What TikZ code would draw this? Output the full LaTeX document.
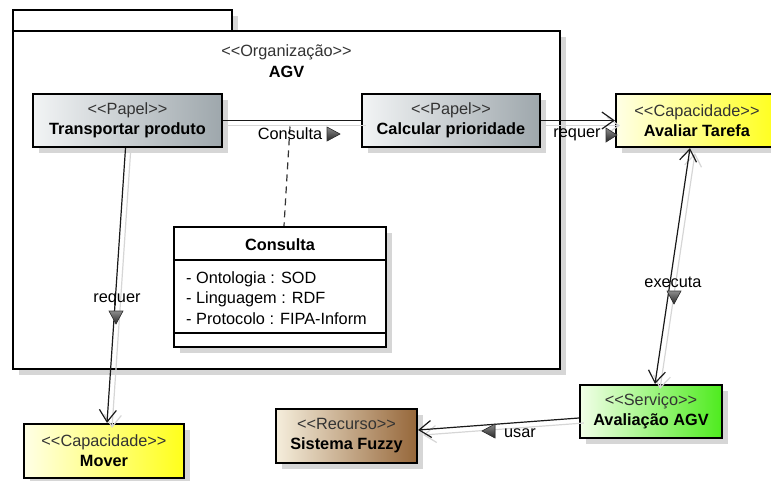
\documentclass[tikz,border=0pt]{standalone}
\usepackage{fontspec}
\setmainfont{Liberation Sans}
\usetikzlibrary{arrows.meta,shadows,calc}
\definecolor{papelL}{HTML}{F2F4F5}
\definecolor{papelR}{HTML}{9EA7AC}
\definecolor{capL}{HTML}{FFFFE6}
\definecolor{capR}{HTML}{FFFF1A}
\definecolor{servL}{HTML}{F2FFE8}
\definecolor{servR}{HTML}{4EEB1E}
\definecolor{recL}{HTML}{F5EEDC}
\definecolor{recR}{HTML}{96673A}
\definecolor{shadowgray}{HTML}{D6D6D6}
\newcommand{\stt}[1]{{\color{black!80}<\kern0pt<#1>\kern0pt>}}
\tikzset{
  umlbox/.style={draw=black, line width=2.2pt, rectangle, inner sep=0pt, align=center,
    drop shadow={shadow xshift=6pt, shadow yshift=-6pt, fill=shadowgray, opacity=1}},
  papel/.style={umlbox, left color=papelL, right color=papelR},
  capac/.style={umlbox, left color=capL, right color=capR},
  servico/.style={umlbox, left color=servL, right color=servR},
  recurso/.style={umlbox, left color=recL, right color=recR},
  plainbox/.style={umlbox, fill=white},
  conn/.style={draw=black!90, line width=1.2pt,
    preaction={draw=shadowgray, line width=1.2pt, transform canvas={shift={(5pt,-5pt)}}}},
  navarrow/.style={conn, -{Straight Barb[length=12pt,width=17pt,line width=1.2pt]}},
  navboth/.style={conn, {Straight Barb[length=12pt,width=17pt,line width=1.2pt]}-{Straight Barb[length=12pt,width=17pt,line width=1.2pt]}},
  dashconn/.style={draw=black!80, line width=1.2pt, dash pattern=on 7pt off 5pt},
  lbl/.style={inner sep=0pt},
  trimark/.style={draw=black!80, line width=0.6pt, top color=black!45, bottom color=black!85},
}
\begin{document}
\begin{tikzpicture}[x=1pt,y=-1pt,font=\fontsize{16.3}{20}\selectfont]
\useasboundingbox (0,0) rectangle (771,480);
\clip (0,0) rectangle (771,480);

% package
\node[plainbox, minimum width=219pt, minimum height=21pt] (pkgtab) at (122.5,20.5) {};
\node[plainbox, minimum width=547pt, minimum height=338pt] (pkg) at (286.5,200) {};
\node[lbl, align=center] (pkgtitle) at (286.5,61) {\stt{Organização}\\[1pt]\textbf{AGV}};

% roles
\node[papel, minimum width=189pt, minimum height=53pt] (tp) at (127.5,120.5)
  {\stt{Papel}\\\textbf{Transportar produto}};
\node[papel, minimum width=178pt, minimum height=53pt] (cp) at (451,120.5)
  {\stt{Papel}\\\textbf{Calcular prioridade}};

% capabilities
\node[capac, minimum width=162pt, minimum height=53pt] (at) at (697,120.5)
  {\stt{Capacidade}\\\textbf{Avaliar Tarefa}};
\node[capac, minimum width=160pt, minimum height=54pt] (mv) at (104,451)
  {\stt{Capacidade}\\\textbf{Mover}};

% service & resource
\node[servico, minimum width=142pt, minimum height=53pt] (av) at (651,411.5)
  {\stt{Serviço}\\\textbf{Avaliação AGV}};
\node[recurso, minimum width=141pt, minimum height=54pt] (sf) at (346.5,436)
  {\stt{Recurso}\\\textbf{Sistema Fuzzy}};

% association class
\coordinate (mid) at ($(tp.east)!0.5!(cp.west)$);
\node[plainbox, minimum width=212pt, minimum height=120pt] (cls) at (280,287) {};
\draw[dashconn] ($(mid)+(-2,6)$) -- ($(cls.north)+(4,0)$);
\draw[line width=1.4pt] (cls.west |- 0,260) coordinate (s1a) -- (cls.east |- 0,260) coordinate (s1b);
\draw[line width=1.4pt] (cls.west |- 0,333) coordinate (s2a) -- (cls.east |- 0,333) coordinate (s2b);
\node[lbl] (clstitle) at (280,245) {\textbf{Consulta}};
\node[lbl, anchor=west, align=left, font=\fontsize{16.3}{20.5}\selectfont] (clsattr) at (186,298)
  {- Ontologia : SOD\\- Linguagem : RDF\\- Protocolo : FIPA-Inform};

% connectors
\draw[conn] (tp.east) -- (cp.west);
\draw[navarrow] (cp.east) -- (at.west);
\draw[navarrow] ($(tp.south)+(-2,0)$) -- ($(mv.north)+(3,0)$);
\draw[navboth] ($(at.south)+(-7,0)$) -- ($(av.north)+(4,0)$);
\draw[navarrow] ($(av.west)+(0,6.5)$) -- ($(sf.east)+(0,-6)$);

% labels
\node[lbl] (lconsulta) at (290,134) {Consulta};
\filldraw[trimark] (333,134) +(-6,-7) -- +(7,0) -- +(-6,7) -- cycle;
\node[lbl] (lrequer1) at (577,135) {requer};
\filldraw[trimark] (611,135) +(-5,-7) -- +(6,0) -- +(-5,7) -- cycle;
\node[lbl] (lrequer2) at (117,300) {requer};
\filldraw[trimark] (116,317) +(-7,-6) -- +(7,-6) -- +(0,7) -- cycle;
\node[lbl] (lexecuta) at (673,282) {executa};
\filldraw[trimark] (674,297) +(-7,-6) -- +(7,-6) -- +(0,7) -- cycle;
\node[lbl] (lusar) at (520,433) {usar};
\filldraw[trimark] (489,431) +(6,-7) -- +(-7,0) -- +(6,7) -- cycle;
\end{tikzpicture}
\end{document}
